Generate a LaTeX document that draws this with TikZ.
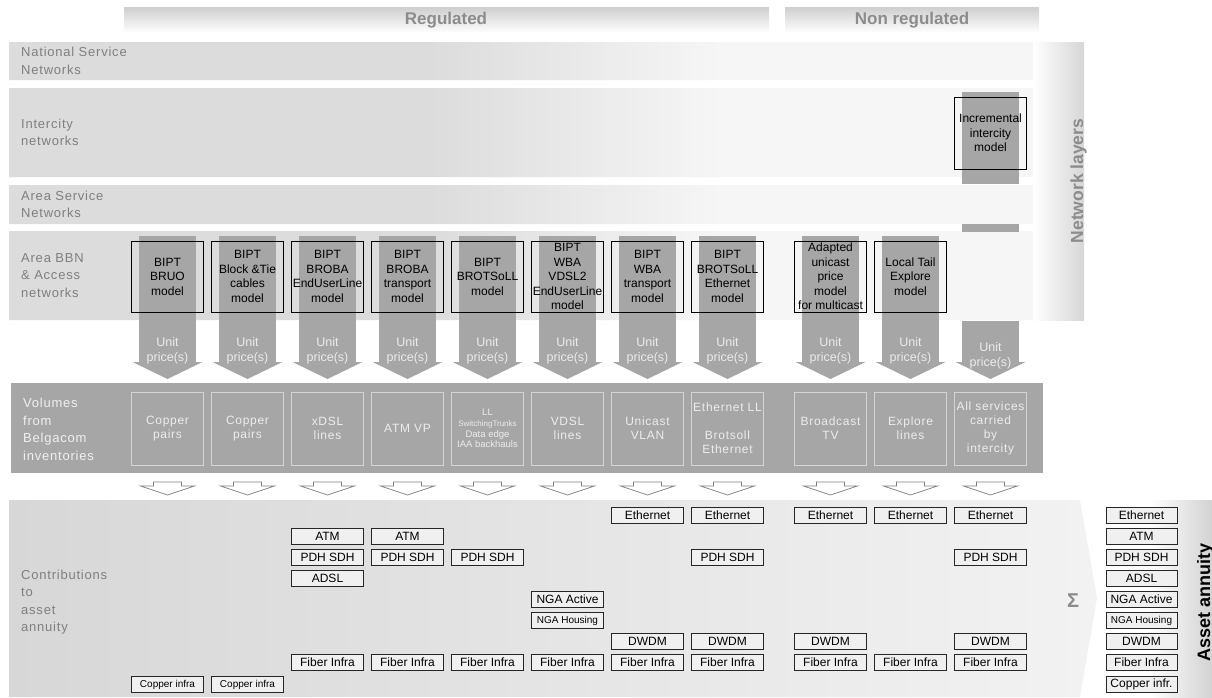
\documentclass[tikz,border=0pt]{standalone}
\usepackage{fontspec}
\setmainfont{Liberation Sans}
\newfontfamily\spaced[LetterSpace=6]{Liberation Sans}
\usetikzlibrary{arrows.meta, positioning}

\definecolor{bandgray}{HTML}{DCDCDC}
\definecolor{bandlight}{HTML}{F6F6F6}
\definecolor{arrowgray}{HTML}{A6A6A6}
\definecolor{labelgray}{HTML}{7F7F7F}
\definecolor{headgray}{HTML}{8C8C8C}
\definecolor{partfill}{HTML}{F0F0F0}
\definecolor{contribgray}{HTML}{D7D7D7}
\definecolor{volline}{HTML}{D4D4D4}

\pgfdeclarelayer{back}
\pgfsetlayers{back,main}

\tikzset{
    layerlabel/.style={anchor=west, align=left, inner sep=0pt, text=labelgray, font=\spaced\fontsize{13}{17.5}\selectfont}, % row titles on the left
    header/.style={text=headgray, font=\bfseries\fontsize{17}{20}\selectfont}, % Regulated / Non regulated
    model/.style={draw=black, line width=0.6pt, outer sep=0pt, inner sep=0pt, minimum width=71.5pt, minimum height=71pt, align=center, font=\fontsize{12}{14.5}\selectfont}, % cost models
    volume/.style={draw=volline, line width=0.8pt, outer sep=0pt, inner sep=0pt, minimum width=71.5pt, minimum height=73pt, align=center, text=white!93!black, font=\spaced\fontsize{12}{14}\selectfont}, % inventories
    price/.style={draw=arrowgray, line width=57pt, -{Triangle[width=70pt, length=17pt, line width=0pt]}}, % unit price flow
    pricetext/.style={text=white!92!black, align=center, font=\fontsize{12.5}{15}\selectfont},
    hollow/.style={draw=gray, line width=0.7pt, fill=white}, % volumes going down
    part/.style={draw=black!85, line width=0.6pt, fill=partfill, outer sep=0pt, inner sep=0pt, minimum width=71.5pt, minimum height=16pt, font=\fontsize{12}{14}\selectfont}, % asset blocks
    smallpart/.style={part, font=\fontsize{10}{12}\selectfont},
}

\begin{document}
\begin{tikzpicture}[x=1pt, y=-1pt]
    \useasboundingbox (0,0) rectangle (1212,697);

    % headers and row titles
    \node[header] (reg) at (446,20) {Regulated};
    \node[header] (nonreg) at (912,20) {Non regulated};
    \node[layerlabel] (natl) at (21,61) {National Service\\Networks};
    \node[layerlabel] (icity) at (21,132.5) {Intercity\\networks};
    \node[layerlabel] (asn) at (21,204.5) {Area Service\\Networks};
    \node[layerlabel] (bbn) at (21,275.5) {Area BBN\\\& Access\\networks};
    \node[layerlabel, text=white!94!black] (vols) at (23,429.5) {Volumes\\from\\Belgacom\\inventories};
    \node[layerlabel] (contrib) at (21,602) {Contributions\\to\\asset\\annuity};
    \node[rotate=90, anchor=base, text=headgray, font=\bfseries\fontsize{17.5}{20}\selectfont] (netlayers) at (1083,181) {Network layers};
    \node[rotate=90, anchor=base, font=\bfseries\fontsize{18}{20}\selectfont] (annuity) at (1210,602) {Asset annuity};
    \node[text=headgray, font=\bfseries\fontsize{20}{22}\selectfont] (sigma) at (1073,601) {Σ};

    % cost models
    \node[model] (bruo) at (167.5,276.5) {BIPT\\BRUO\\model};
    \node[model, right=8.5pt of bruo] (blocktie) {BIPT\\Block \&Tie\\cables\\model};
    \node[model, right=8.5pt of blocktie] (brobaeul) {BIPT\\BROBA\\EndUserLine\\model};
    \node[model, right=8.5pt of brobaeul] (brobatr) {BIPT\\BROBA\\transport\\model};
    \node[model, right=8.5pt of brobatr] (brotsoll) {BIPT\\BROTSoLL\\model};
    \node[model, right=8.5pt of brotsoll] (wbavdsl) {BIPT\\WBA\\VDSL2\\EndUserLine\\model};
    \node[model, right=8.5pt of wbavdsl] (wbatr) {BIPT\\WBA\\transport\\model};
    \node[model, right=8.5pt of wbatr] (brotsolleth) {BIPT\\BROTSoLL\\Ethernet\\model};
    \node[model, right=31.5pt of brotsolleth] (multicast) {Adapted\\unicast\\price\\model\\for multicast};
    \node[model, right=8.5pt of multicast] (localtail) {Local Tail\\Explore\\model};

    % volumes
    \node[volume, below=80pt of bruo] (vcopper) {Copper\\pairs};
    \node[volume, below=80pt of blocktie] (vcopperb) {Copper\\pairs};
    \node[volume, below=80pt of brobaeul] (vxdsl) {xDSL\\lines};
    \node[volume, below=80pt of brobatr] (vatm) {ATM VP};
    \node[volume, below=80pt of brotsoll, font=\fontsize{9.5}{10.7}\selectfont] (vll) {LL\\{\fontsize{8}{10}\selectfont SwitchingTrunks}\\Data edge\\IAA backhauls};
    \node[volume, below=80pt of wbavdsl] (vvdsl) {VDSL\\lines};
    \node[volume, below=80pt of wbatr] (vunicast) {Unicast\\VLAN};
    \node[volume, below=80pt of brotsolleth] (vethll) {Ethernet LL\\\mbox{}\\Brotsoll\\Ethernet};
    \node[volume, below=80pt of multicast] (vbroadcast) {Broadcast\\TV};
    \node[volume, below=80pt of localtail] (vexplore) {Explore\\lines};
    \node[volume, right=8.5pt of vexplore] (vall) {All services\\carried\\by\\intercity};
    \node[model, minimum height=72pt] (intercity) at (vall |- 0,133) {Incremental\\intercity\\model};
    \coordinate (allin) at ([yshift=71pt]vall.north);

    % asset rows
    \coordinate (reth) at (0,515.5);
    \coordinate (ratm) at (0,536);
    \coordinate (rpdh) at (0,557);
    \coordinate (radsl) at (0,578.5);
    \coordinate (rnga) at (0,599.5);
    \coordinate (rhouse) at (0,620.5);
    \coordinate (rdwdm) at (0,641);
    \coordinate (rfib) at (0,662);
    \coordinate (rcu) at (0,684.5);
    \coordinate (sumcol) at (1141.5,0);

    \node[smallpart] (cu1) at (vcopper |- rcu) {Copper infra};
    \node[smallpart] (cu2) at (vcopperb |- rcu) {Copper infra};
    \node[part] (atm3) at (vxdsl |- ratm) {ATM};
    \node[part] (pdh3) at (vxdsl |- rpdh) {PDH SDH};
    \node[part] (adsl3) at (vxdsl |- radsl) {ADSL};
    \node[part] (fib3) at (vxdsl |- rfib) {Fiber Infra};
    \node[part] (atm4) at (vatm |- ratm) {ATM};
    \node[part] (pdh4) at (vatm |- rpdh) {PDH SDH};
    \node[part] (fib4) at (vatm |- rfib) {Fiber Infra};
    \node[part] (pdh5) at (vll |- rpdh) {PDH SDH};
    \node[part] (fib5) at (vll |- rfib) {Fiber Infra};
    \node[part] (nga6) at (vvdsl |- rnga) {NGA Active};
    \node[smallpart] (house6) at (vvdsl |- rhouse) {NGA Housing};
    \node[part] (fib6) at (vvdsl |- rfib) {Fiber Infra};
    \node[part] (eth7) at (vunicast |- reth) {Ethernet};
    \node[part] (dwdm7) at (vunicast |- rdwdm) {DWDM};
    \node[part] (fib7) at (vunicast |- rfib) {Fiber Infra};
    \node[part] (eth8) at (vethll |- reth) {Ethernet};
    \node[part] (pdh8) at (vethll |- rpdh) {PDH SDH};
    \node[part] (dwdm8) at (vethll |- rdwdm) {DWDM};
    \node[part] (fib8) at (vethll |- rfib) {Fiber Infra};
    \node[part] (eth9) at (vbroadcast |- reth) {Ethernet};
    \node[part] (dwdm9) at (vbroadcast |- rdwdm) {DWDM};
    \node[part] (fib9) at (vbroadcast |- rfib) {Fiber Infra};
    \node[part] (eth10) at (vexplore |- reth) {Ethernet};
    \node[part] (fib10) at (vexplore |- rfib) {Fiber Infra};
    \node[part] (eth11) at (vall |- reth) {Ethernet};
    \node[part] (pdh11) at (vall |- rpdh) {PDH SDH};
    \node[part] (dwdm11) at (vall |- rdwdm) {DWDM};
    \node[part] (fib11) at (vall |- rfib) {Fiber Infra};

    % summed annuity
    \node[part, minimum width=71pt] (seth) at (sumcol |- reth) {Ethernet};
    \node[part, minimum width=71pt] (satm) at (sumcol |- ratm) {ATM};
    \node[part, minimum width=71pt] (spdh) at (sumcol |- rpdh) {PDH SDH};
    \node[part, minimum width=71pt] (sadsl) at (sumcol |- radsl) {ADSL};
    \node[part, minimum width=71pt] (snga) at (sumcol |- rnga) {NGA Active};
    \node[smallpart, minimum width=71pt] (shouse) at (sumcol |- rhouse) {NGA Housing};
    \node[part, minimum width=71pt] (sdwdm) at (sumcol |- rdwdm) {DWDM};
    \node[part, minimum width=71pt] (sfib) at (sumcol |- rfib) {Fiber Infra};
    \node[part, minimum width=71pt] (scu) at (sumcol |- rcu) {Copper infr.};

    % volumes handed down
    \foreach \v in {vcopper,vcopperb,vxdsl,vatm,vll,vvdsl,vunicast,vethll,vbroadcast,vexplore,vall}
        \draw[hollow] ([yshift=-17pt]\v.south) ++(-14,0) -- ++(28,0) -- ++(0,4) -- ++(13,0) -- ++(-27,9) -- ++(-27,-9) -- ++(13,0) -- cycle;

    \begin{pgfonlayer}{back}
        % header bars
        \shade[top color=gray!38, bottom color=white] (124,7) rectangle (769,33);
        \shade[top color=gray!38, bottom color=white] (785,7) rectangle (1039,33);
        % network layers
        \fill[bandlight] (9,42) rectangle (1036,80) (9,88) rectangle (1036,177) (9,185) rectangle (1036,224) (9,231) rectangle (1036,320);
        \fill[bandgray] (9,42) rectangle (431,80) (9,88) rectangle (431,177) (9,185) rectangle (431,224) (9,231) rectangle (431,320);
        \shade[left color=bandgray, right color=bandlight] (430,42) rectangle (721,80) (430,88) rectangle (721,177) (430,185) rectangle (721,224) (430,231) rectangle (721,320);
        \shade[left color=white, right color=gray!32] (1033,42) rectangle (1084,320);
        % volumes and contributions
        \fill[arrowgray] (11,383) rectangle (1043,473);
        \shade[left color=contribgray, right color=white!95!black] (9,500) -- (1080,500) -- (1097,598) -- (1080,697) -- (9,697) -- cycle;
        \shade[left color=white, right color=gray!35] (1150,500) rectangle (1212,697);
        % incremental intercity
        \fill[arrowgray] ([xshift=-28.5pt, yshift=5pt]intercity.north) rectangle ([xshift=28.5pt, yshift=-15pt]intercity.south);
        \fill[arrowgray] ([xshift=-28.5pt, yshift=-55pt]intercity.south) rectangle ([xshift=28.5pt, yshift=-63pt]intercity.south);
        % unit prices
        \path
          ([yshift=5pt]bruo.north) edge[price] node[pricetext, pos=.8] {Unit\\price(s)} ([yshift=13pt]vcopper.north)
          ([yshift=5pt]blocktie.north) edge[price] node[pricetext, pos=.8] {Unit\\price(s)} ([yshift=13pt]vcopperb.north)
          ([yshift=5pt]brobaeul.north) edge[price] node[pricetext, pos=.8] {Unit\\price(s)} ([yshift=13pt]vxdsl.north)
          ([yshift=5pt]brobatr.north) edge[price] node[pricetext, pos=.8] {Unit\\price(s)} ([yshift=13pt]vatm.north)
          ([yshift=5pt]brotsoll.north) edge[price] node[pricetext, pos=.8] {Unit\\price(s)} ([yshift=13pt]vll.north)
          ([yshift=5pt]wbavdsl.north) edge[price] node[pricetext, pos=.8] {Unit\\price(s)} ([yshift=13pt]vvdsl.north)
          ([yshift=5pt]wbatr.north) edge[price] node[pricetext, pos=.8] {Unit\\price(s)} ([yshift=13pt]vunicast.north)
          ([yshift=5pt]brotsolleth.north) edge[price] node[pricetext, pos=.8] {Unit\\price(s)} ([yshift=13pt]vethll.north)
          ([yshift=5pt]multicast.north) edge[price] node[pricetext, pos=.8] {Unit\\price(s)} ([yshift=13pt]vbroadcast.north)
          ([yshift=5pt]localtail.north) edge[price] node[pricetext, pos=.8] {Unit\\price(s)} ([yshift=13pt]vexplore.north)
          (allin) edge[price] node[pricetext, pos=.6] {Unit\\price(s)} ([yshift=13pt]vall.north);
    \end{pgfonlayer}
\end{tikzpicture}
\end{document}
